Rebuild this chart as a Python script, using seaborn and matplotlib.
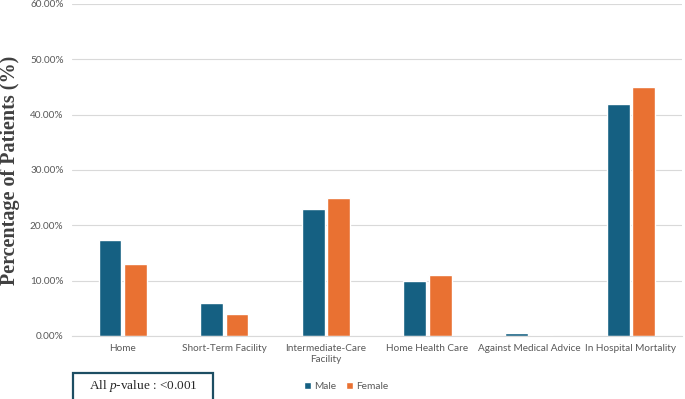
import matplotlib
matplotlib.use('Agg')
import matplotlib.pyplot as plt
import seaborn as sns
import pandas as pd
from matplotlib.ticker import FuncFormatter
from matplotlib.patches import Rectangle

categories = ['Home', 'Short-Term Facility', 'Intermediate-Care\nFacility',
              'Home Health Care', 'Against Medical Advice', 'In Hospital Mortality']
male = [17.4, 6.0, 23.0, 10.0, 0.6, 42.0]
female = [13.0, 3.9, 25.0, 11.0, 0.1, 45.0]
groups = ['Male', 'Female']
colors = ['#156082', '#E97132']

df = pd.DataFrame({
    'category': categories * 2,
    'value': male + female,
    'sex': ['Male'] * len(categories) + ['Female'] * len(categories),
})

sns.set_style('white')
plt.rcParams['font.family'] = ['Lato', 'DejaVu Sans']
plt.rcParams['mathtext.fontset'] = 'custom'
plt.rcParams['mathtext.it'] = 'Liberation Serif:italic'
plt.rcParams['mathtext.rm'] = 'Liberation Serif'

fig = plt.figure(figsize=(6.85, 3.99), dpi=100)
ax = fig.add_axes([0.105, 0.158, 0.89, 0.832])

sns.barplot(data=df, x='category', y='value', hue='sex', hue_order=groups,
            palette=colors, width=0.5, gap=0.1, ax=ax, legend=True, saturation=1)

ax.set_ylim(0, 60)
ax.set_yticks([0, 10, 20, 30, 40, 50, 60])
ax.yaxis.set_major_formatter(FuncFormatter(lambda v, p: f'{v:.2f}%'))
ax.yaxis.grid(True, color='#d9d9d9', linewidth=0.8)
ax.set_axisbelow(True)
for s in ['top', 'right', 'left']:
    ax.spines[s].set_visible(False)
ax.spines['bottom'].set_color('#d9d9d9')
ax.tick_params(axis='both', length=0, labelsize=7.2, colors='#595959', pad=6)
ax.set_xlabel('')
ax.set_ylabel('Percentage of Patients (%)', family='Liberation Serif',
              fontsize=14.5, fontweight='bold', color='#404040', labelpad=7)

handles, labels = ax.get_legend_handles_labels()
ax.legend_.remove()
fig.legend(handles, labels, loc='center', bbox_to_anchor=(0.505, 0.032), ncols=2,
           frameon=False, fontsize=7.3, handlelength=0.7, handleheight=0.7,
           handletextpad=0.3, columnspacing=1.0, labelcolor='#595959')

fig.patches.append(Rectangle((0.107, -0.01), 0.204, 0.075, transform=fig.transFigure,
                             facecolor='white', edgecolor='#1d4e63', linewidth=1.6))
fig.text(0.209, 0.032, 'All $p$-value : <0.001', ha='center', va='center',
         family='Liberation Serif', fontsize=9.5)

fig.savefig('out.png', dpi=100)
